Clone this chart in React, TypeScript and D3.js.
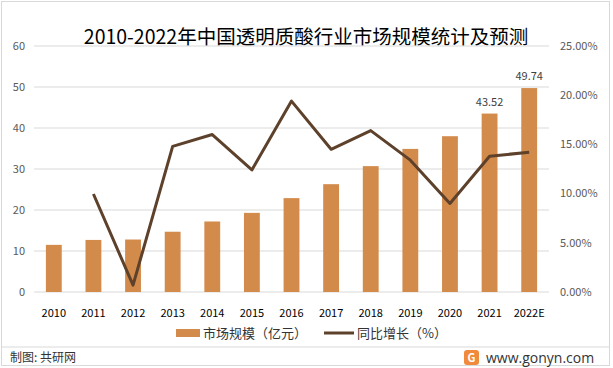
import * as d3 from 'd3';

const years = ['2010', '2011', '2012', '2013', '2014', '2015', '2016', '2017', '2018', '2019', '2020', '2021', '2022E'];
const marketSize = [11.5, 12.7, 12.8, 14.7, 17.2, 19.3, 22.9, 26.3, 30.7, 34.9, 38.0, 43.52, 49.74];
const growth = [null, 9.96, 0.7, 14.8, 16.0, 12.4, 19.4, 14.5, 16.4, 13.4, 9.0, 13.8, 14.2];
const leftTicks = [0, 10, 20, 30, 40, 50, 60];
const rightTicks = [0, 5, 10, 15, 20, 25];
const labelled = ['2021', '2022E'];

const W = 613;
const H = 368;
const font = "'Noto Sans CJK SC', 'Noto Sans', sans-serif";

export default function App() {
  const margin = { top: 46, right: 64, bottom: 76, left: 34 };
  const x = d3.scaleBand().domain(years).range([margin.left, W - margin.right]).paddingInner(0.6).paddingOuter(0.3);
  const y = d3.scaleLinear().domain([0, 60]).range([H - margin.bottom, margin.top]);
  const y2 = d3.scaleLinear().domain([0, 25]).range([H - margin.bottom, margin.top]);
  const cx = (d: string) => (x(d) ?? 0) + x.bandwidth() / 2;

  // growth line, first year has no value
  const line = d3.line<number | null>()
    .defined(d => d !== null)
    .x((_, i) => cx(years[i]))
    .y(d => y2(d as number));

  return (
    <div style={{ position: 'fixed', left: 0, top: 0 }}>
      <svg width={W} height={H} style={{ display: 'block', fontFamily: font }}>
        <rect x={0} y={0} width={W} height={H} fill="#fff" />
        <rect x={1.5} y={1.5} width={W - 5} height={H - 4} fill="none" stroke="#d9d9d9" />
        <text x={306} y={44} textAnchor="middle" fontSize={19.5} fill="#000">
          2010-2022年中国透明质酸行业市场规模统计及预测
        </text>

        {leftTicks.map(t => (
          <g key={t}>
            <line x1={margin.left} x2={W - margin.right} y1={y(t)} y2={y(t)} stroke="#d9d9d9" strokeWidth={1} />
            <text x={25} y={y(t)} dy="0.35em" textAnchor="end" fontSize={11} fill="#595959">{t}</text>
          </g>
        ))}
        {rightTicks.map(t => (
          <text key={t} x={560} y={y2(t)} dy="0.35em" textAnchor="start" fontSize={11} fill="#595959">
            {t.toFixed(2)}%
          </text>
        ))}

        {years.map((yr, i) => (
          <g key={yr}>
            <rect x={x(yr)} y={y(marketSize[i])} width={x.bandwidth()} height={y(0) - y(marketSize[i])} fill="#d38b4c" />
            <text x={cx(yr)} y={313} textAnchor="middle" fontSize={11} fill="#000" dy="0.35em">{yr}</text>
            {labelled.includes(yr) && (
              <text x={cx(yr)} y={y(marketSize[i]) - 8} textAnchor="middle" fontSize={11} fill="#404040">
                {marketSize[i].toFixed(2)}
              </text>
            )}
          </g>
        ))}

        <path d={line(growth) ?? ''} fill="none" stroke="#5e412b" strokeWidth={3} strokeLinejoin="round" />

        <g fontSize={13} fill="#333">
          <rect x={176} y={329} width={24} height={8} fill="#d38b4c" />
          <text x={203} y={333} dy="0.35em">市场规模（亿元）</text>
          <line x1={324} x2={354} y1={333} y2={333} stroke="#5e412b" strokeWidth={3} />
          <text x={357} y={333} dy="0.35em">同比增长（%）</text>
        </g>

        <line x1={1.5} x2={W - 3.5} y1={347} y2={347} stroke="#d9d9d9" />
        <text x={10} y={358} dy="0.35em" fontSize={12} fill="#333">制图: 共研网</text>
        <rect x={464} y={350} width={15} height={15} rx={3} fill="#f08a3c" />
        <text x={471.5} y={358} dy="0.35em" textAnchor="middle" fontSize={11} fontWeight="bold" fill="#fff">G</text>
        <text x={486} y={358} dy="0.35em" fontSize={14} fill="#333" style={{ fontFamily: "'Open Sans', sans-serif" }}>
          www.gonyn.com
        </text>
      </svg>
    </div>
  );
}
